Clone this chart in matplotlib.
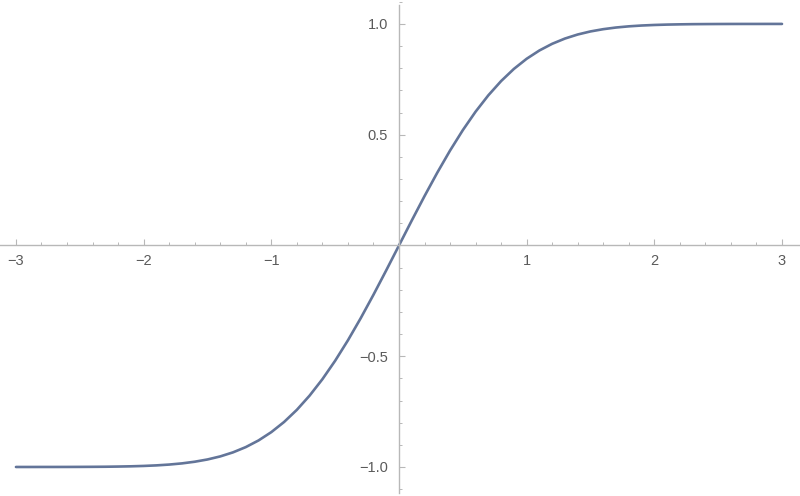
import matplotlib
matplotlib.use('Agg')
import matplotlib.pyplot as plt
from matplotlib.ticker import MultipleLocator

plt.rcParams['font.family'] = ['Liberation Sans', 'DejaVu Sans']

# values, x from -3 to 3 in steps of 0.1
x_vals = [-3.0, -2.9, -2.8, -2.7, -2.6, -2.5, -2.4, -2.3, -2.2, -2.1,
          -2.0, -1.9, -1.8, -1.7, -1.6, -1.5, -1.4, -1.3, -1.2, -1.1,
          -1.0, -0.9, -0.8, -0.7, -0.6, -0.5, -0.4, -0.3, -0.2, -0.1,
          0.0, 0.1, 0.2, 0.3, 0.4, 0.5, 0.6, 0.7, 0.8, 0.9,
          1.0, 1.1, 1.2, 1.3, 1.4, 1.5, 1.6, 1.7, 1.8, 1.9,
          2.0, 2.1, 2.2, 2.3, 2.4, 2.5, 2.6, 2.7, 2.8, 2.9, 3.0]
y_vals = [-1.0, -1.0, -0.9999, -0.9999, -0.9998, -0.9996, -0.9993, -0.9989, -0.9981, -0.9970,
          -0.9953, -0.9928, -0.9891, -0.9838, -0.9763, -0.9661, -0.9523, -0.9340, -0.9103, -0.8802,
          -0.8427, -0.7969, -0.7421, -0.6778, -0.6039, -0.5205, -0.4284, -0.3286, -0.2227, -0.1125,
          0.0, 0.1125, 0.2227, 0.3286, 0.4284, 0.5205, 0.6039, 0.6778, 0.7421, 0.7969,
          0.8427, 0.8802, 0.9103, 0.9340, 0.9523, 0.9661, 0.9763, 0.9838, 0.9891, 0.9928,
          0.9953, 0.9970, 0.9981, 0.9989, 0.9993, 0.9996, 0.9998, 0.9999, 0.9999, 1.0, 1.0]

x_ticks = [-3, -2, -1, 1, 2, 3]
y_ticks = [-1.0, -0.5, 0.5, 1.0]

axis_col = '#b8b8b8'
label_col = '#5a5a5a'

fig = plt.figure(figsize=(8, 4.96), dpi=100)
ax = fig.add_axes([0, 0, 1, 1])

ax.plot(x_vals, y_vals, color='#637599', lw=1.9, solid_capstyle='round')

ax.set_xlim(-3.125, 3.141)
ax.set_ylim(-1.131, 1.108)

for s in ['top', 'right']:
    ax.spines[s].set_visible(False)
ax.spines['bottom'].set_position(('data', 0))
ax.spines['left'].set_position(('data', 0))
ax.spines['left'].set_bounds(-1.117, 1.085)
for s in ['bottom', 'left']:
    ax.spines[s].set_color(axis_col)
    ax.spines[s].set_linewidth(1.0)

ax.set_xticks(x_ticks)
ax.set_xticklabels([f'{v:g}'.replace('-', '\u2212') for v in x_ticks])
ax.set_yticks(y_ticks)
ax.set_yticklabels([f'{v:.1f}'.replace('-', '\u2212') for v in y_ticks])
ax.xaxis.set_minor_locator(MultipleLocator(0.2))
ax.yaxis.set_minor_locator(MultipleLocator(0.1))

ax.tick_params(which='major', direction='in', length=4.5, width=0.8, color=axis_col,
               labelcolor=label_col, labelsize=10.5)
ax.tick_params(which='minor', direction='in', length=2.5, width=0.7, color=axis_col)
ax.tick_params(axis='x', which='major', pad=6)
ax.tick_params(axis='y', which='major', pad=8)

plt.savefig('out.png', dpi=100)
